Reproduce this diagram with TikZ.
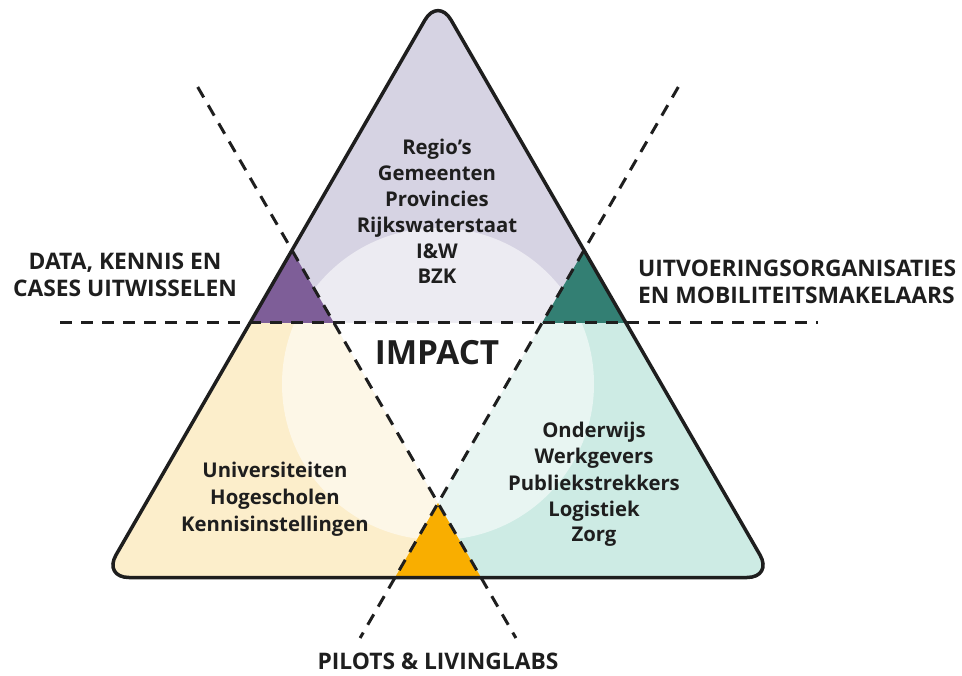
\documentclass[tikz,border=0pt]{standalone}
\usepackage{fontspec}
\usetikzlibrary{calc}
\setmainfont{Open Sans}
\definecolor{lav}{HTML}{D6D3E3}
\definecolor{yel}{HTML}{FCEECB}
\definecolor{mint}{HTML}{CDEBE4}
\definecolor{purp}{HTML}{7E5E98}
\definecolor{teal2}{HTML}{337F73}
\definecolor{oran}{HTML}{F9AE00}
\definecolor{ink}{HTML}{1E1E1E}
\begin{document}
\begin{tikzpicture}[x=1pt,y=-1pt,
  txt/.style={font=\bfseries\fontsize{20.3}{24}\selectfont, inner sep=0pt, anchor=base, text=ink},
  lbl/.style={font=\bfseries\fontsize{22.8}{26}\selectfont, inner sep=0pt, anchor=base, text=ink},
  dashline/.style={draw=ink, line width=3pt, dash pattern=on 12pt off 9pt},
  outline/.style={draw=ink, line width=3.5pt, rounded corners=26pt, line join=round}]
\useasboundingbox (0,0) rectangle (962,676);
% geometry
\coordinate (A) at (438,-2.6);
\coordinate (L) at (103,577.5);
\coordinate (R) at (773,577.5);
\coordinate (B) at (438,577.5);
\coordinate (P) at (334,323);
\coordinate (T) at (542,323);
\coordinate (X) at (438,503);
\coordinate (D1s) at (197.7,87);
\coordinate (D1e) at (515.9,638);
\coordinate (D2s) at (678.3,87);
\coordinate (D2e) at (360.1,638);
\coordinate (Hs) at (60,323);
\coordinate (He) at (818,323);
\coordinate (C) at (438,384);
% fills
\begin{scope}
  \clip[rounded corners=26pt] (B) -- (R) -- (A) -- (L) -- cycle;
  \fill[lav] (0,-10) rectangle (962,700);
  \fill[yel] (0,323) -- (P) -- (X) -- (D2e) -- (0,638) -- cycle;
  \fill[mint] (962,323) -- (T) -- (X) -- (D1e) -- (962,638) -- cycle;
  \fill[white, fill opacity=0.55] (C) circle (156pt);
  \fill[white] (P) -- (T) -- (X) -- cycle;
  \fill[purp] (P) -- (D1s) -- (0,87) -- (0,323) -- cycle;
  \fill[teal2] (T) -- (D2s) -- (962,87) -- (962,323) -- cycle;
  \fill[oran] (X) -- (D2e) -- (D1e) -- cycle;
\end{scope}
% dashed lines
\draw[dashline] (Hs) -- (He);
\draw[dashline] (D1s) -- (D1e);
\draw[dashline] (D2s) -- (D2e);
% outline
\draw[outline] (B) -- (R) -- (A) -- (L) -- cycle;
% top texts
\node[txt] (t1) at (437,155) {Regio’s};
\node[txt] (t2) at (437,180.8) {Gemeenten};
\node[txt] (t3) at (437,206.6) {Provincies};
\node[txt] (t4) at (437,232.4) {Rijkswaterstaat};
\node[txt] (t5) at (437,258.2) {I\&W};
\node[txt] (t6) at (437,284) {BZK};
% left texts
\node[txt] (l1) at (275,478) {Universiteiten};
\node[txt] (l2) at (275,504.5) {Hogescholen};
\node[txt] (l3) at (275,531) {Kennisinstellingen};
% right texts
\node[txt] (r1) at (594,438) {Onderwijs};
\node[txt] (r2) at (594,464) {Werkgevers};
\node[txt] (r3) at (594,490) {Publiekstrekkers};
\node[txt] (r4) at (594,516) {Logistiek};
\node[txt] (r5) at (594,541) {Zorg};
% impact
\node[inner sep=0pt, anchor=base, text=ink, font=\bfseries\fontsize{33.3}{36}\selectfont] (imp) at (437,365) {IMPACT};
% outer labels
\node[lbl] (dl1) at (125,270) {DATA, KENNIS EN};
\node[lbl] (dl2) at (125,297) {CASES UITWISSELEN};
\node[lbl, anchor=base west] (ul1) at (638,277) {UITVOERINGSORGANISATIES};
\node[lbl, anchor=base west] (ul2) at (638,304) {EN MOBILITEITSMAKELAARS};
\node[lbl] (pl) at (438,669) {PILOTS \& LIVINGLABS};
\end{tikzpicture}
\end{document}
